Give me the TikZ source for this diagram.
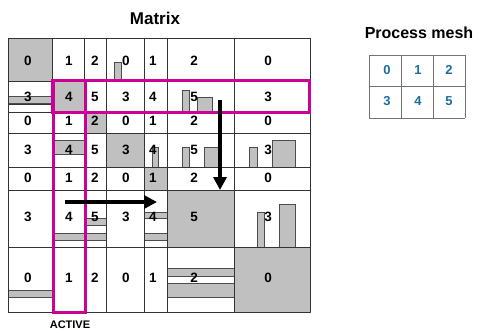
\documentclass[tikz,border=0pt]{standalone}
\usepackage{fontspec}
\setmainfont{Liberation Sans}
\usetikzlibrary{arrows.meta}
\definecolor{cellgray}{RGB}{192,192,192}
\definecolor{activemag}{RGB}{204,0,153}
\definecolor{meshblue}{RGB}{28,108,160}
\tikzset{
  cell/.style={fill=cellgray, draw=black!70, line width=0.6pt},
  gridline/.style={draw=black!80, line width=0.6pt},
  num/.style={font=\bfseries\fontsize{13.5}{13.5}\selectfont, inner sep=0pt},
  meshnum/.style={font=\bfseries\fontsize{13}{13}\selectfont, text=meshblue, inner sep=0pt},
  title/.style={font=\bfseries\fontsize{17}{17}\selectfont, inner sep=0pt},
  active/.style={draw=activemag, line width=3pt},
  move/.style={line width=3.5pt, -{Triangle[length=13pt,width=13pt]}}
}
\begin{document}
\begin{tikzpicture}[x=1pt,y=-1pt]
\useasboundingbox (0,0) rectangle (486,332);
% shaded blocks and bars
\draw [cell] (8,38) rectangle (52,81);
\draw [cell] (114,62) rectangle (121,81);
\draw [cell] (8,96) rectangle (52,103);
\draw [gridline] (8,104) -- (52,104);
\draw [cell] (52,81) rectangle (84,112);
\draw [cell] (182,90) rectangle (189,112);
\draw [cell] (197,97) rectangle (212,112);
\draw [cell] (84,112) rectangle (106,133);
\draw [cell] (52,140) rectangle (84,154);
\draw [cell] (106,133) rectangle (144,167);
\draw [cell] (152,147) rectangle (158,167);
\draw [cell] (182,147) rectangle (189,167);
\draw [cell] (204,147) rectangle (218,167);
\draw [cell] (249,147) rectangle (257,167);
\draw [cell] (272,140) rectangle (295,167);
\draw [cell] (144,167) rectangle (167,190);
\draw [cell] (52,233) rectangle (84,240);
\draw [cell] (84,218) rectangle (106,225);
\draw [cell] (84,233) rectangle (106,240);
\draw [cell] (144,212) rectangle (167,218);
\draw [cell] (144,233) rectangle (167,240);
\draw [cell] (167,190) rectangle (234,247);
\draw [cell] (257,212) rectangle (264,247);
\draw [cell] (279,204) rectangle (295,247);
\draw [cell] (8,290) rectangle (52,297);
\draw [cell] (167,268) rectangle (234,276);
\draw [cell] (167,283) rectangle (234,297);
\draw [cell] (234,247) rectangle (310,312);
% matrix grid
\foreach \x in {8,52,84,106,144,167,234,310}
  \draw [gridline] (\x,38) -- (\x,312);
\foreach \y in {38,81,112,133,167,190,247,312}
  \draw [gridline] (8,\y) -- (310,\y);
% block owners
\foreach \r/\y in {0/61,1/97,2/121,3/150,4/178,5/217,6/278}
  \foreach \c/\x in {0/28,1/69,2/95,3/126,4/153,5/194,6/268} {
    \pgfmathtruncatemacro\owner{mod(\c,3)+3*mod(\r,2)}
    \node [num] (m\r\c) at (\x,\y) {\owner};
  }
\node [title] (matrix) at (155,18) {Matrix};
\node [font=\bfseries\fontsize{11}{11}\selectfont, inner sep=0pt] (active) at (70,325) {ACTIVE};
% active row and column
\draw [active] (52,80) rectangle (309,112);
\draw [active] (53,80) rectangle (85,312);
% sweep directions
\coordinate (hfrom) at (65,202);
\coordinate (hto) at (157,202);
\coordinate (vfrom) at (220,100);
\coordinate (vto) at (220,190);
\draw [move] (hfrom) -- (hto);
\draw [move] (vfrom) -- (vto);
% process mesh
\node [title, font=\bfseries\fontsize{16}{16}\selectfont] (mesh) at (419,33) {Process mesh};
\foreach \x in {369,401,433,465}
  \draw [draw=black!55, line width=0.6pt] (\x,55) -- (\x,118);
\foreach \y in {55,86,118}
  \draw [draw=black!55, line width=0.6pt] (369,\y) -- (465,\y);
\foreach \r/\y in {0/70,1/101}
  \foreach \c/\x in {0/387,1/418,2/449} {
    \pgfmathtruncatemacro\proc{\c+3*\r}
    \node [meshnum] (p\r\c) at (\x,\y) {\proc};
  }
\end{tikzpicture}
\end{document}
